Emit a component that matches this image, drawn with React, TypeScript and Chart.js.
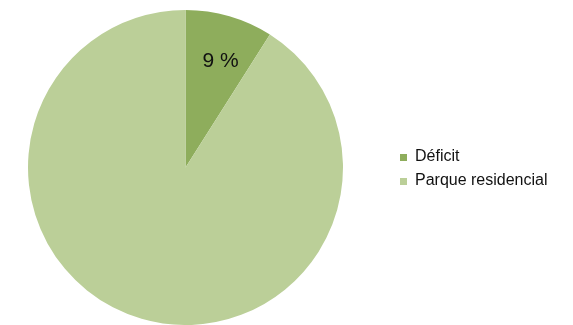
import React, { useEffect, useRef } from "react";
import { Chart, registerables } from "chart.js";

Chart.register(...registerables);

const categories = ["Déficit", "Parque residencial"];
const values = [9, 91];
const colors = ["#8EAD5C", "#BBCF98"];
const pctLabels = ["9 %", ""];

const FONT = "'Liberation Sans', Arial, sans-serif";

const overlayPlugin = {
  id: "overlay",
  afterDraw(chart: any) {
    const ctx = chart.ctx;
    const meta = chart.getDatasetMeta(0);
    ctx.save();
    // slice value labels
    meta.data.forEach((arc: any, i: number) => {
      const txt = pctLabels[i];
      if (!txt) return;
      const p = arc.getProps(["x", "y", "startAngle", "endAngle", "outerRadius"], true);
      const mid = (p.startAngle + p.endAngle) / 2;
      const r = p.outerRadius * 0.71;
      ctx.font = `21px ${FONT}`;
      ctx.fillStyle = "#111";
      ctx.textAlign = "center";
      ctx.textBaseline = "middle";
      ctx.fillText(txt, p.x + Math.cos(mid) * r + 4, p.y + Math.sin(mid) * r + 1);
    });
    // legend
    const lx = 400;
    const ys = [157, 181];
    categories.forEach((c, i) => {
      ctx.fillStyle = colors[i];
      ctx.fillRect(lx, ys[i] - 3, 7, 7);
      ctx.fillStyle = "#111";
      ctx.font = `16px ${FONT}`;
      ctx.textAlign = "left";
      ctx.textBaseline = "middle";
      ctx.fillText(c, lx + 15, ys[i]);
    });
    ctx.restore();
  },
};

export default function App() {
  const ref = useRef<HTMLCanvasElement>(null);
  useEffect(() => {
    if (!ref.current) return;
    const chart = new Chart(ref.current, {
      type: "pie",
      data: {
        labels: categories,
        datasets: [
          {
            data: values,
            backgroundColor: colors,
            borderWidth: 0,
          },
        ],
      },
      options: {
        responsive: false,
        animation: false,
        layout: { padding: { left: 28, right: 230, top: 10, bottom: 0 } },
        plugins: {
          legend: { display: false },
          tooltip: { enabled: false },
        },
      },
      plugins: [overlayPlugin],
    });
    return () => chart.destroy();
  }, []);
  return (
    <div style={{ position: "fixed", left: 0, top: 0, width: 573, height: 325, background: "#fff" }}>
      <canvas ref={ref} width={573} height={325} style={{ display: "block" }} />
    </div>
  );
}
